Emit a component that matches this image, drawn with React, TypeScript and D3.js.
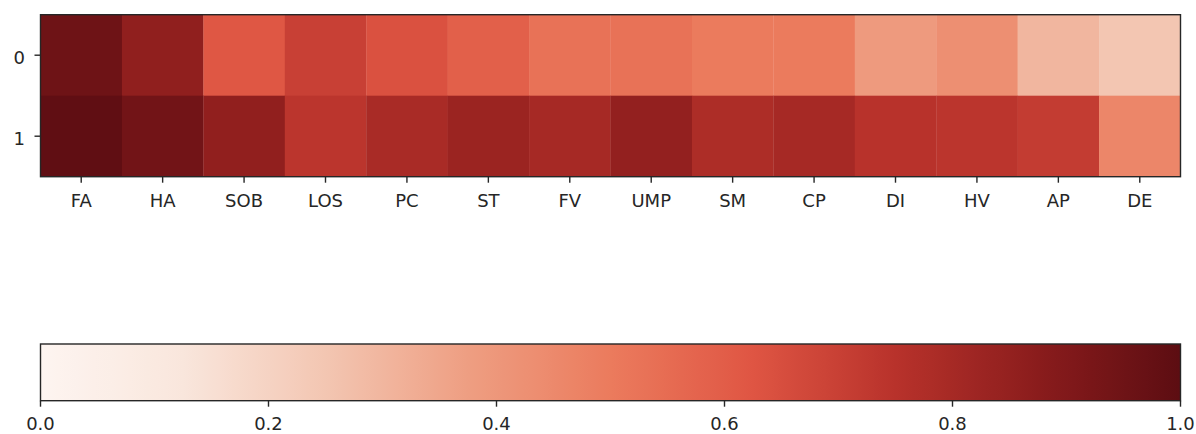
import React from "react";
import * as d3 from "d3";

const categories = ["FA", "HA", "SOB", "LOS", "PC", "ST", "FV", "UMP", "SM", "CP", "DI", "HV", "AP", "DE"];
const rowLabels = ["0", "1"];
const row0Values = [0.95, 0.86, 0.62, 0.7, 0.64, 0.59, 0.53, 0.53, 0.5, 0.5, 0.39, 0.43, 0.3, 0.25];
const row1Values = [0.99, 0.94, 0.856, 0.74, 0.79, 0.83, 0.8, 0.85, 0.78, 0.8, 0.75, 0.74, 0.715, 0.46];
const colorbarTicks = [0, 0.2, 0.4, 0.6, 0.8, 1.0];
// "Reds" ramp as it appears in the reference (slightly muted)
const redsStops = ["#fdf5f1", "#f9e6dc", "#f3c6b2", "#ee9e82", "#eb7b5d", "#df5543", "#b8322b", "#8a1c1c", "#5c0d12"];

const W = 1196;
const H = 434;
const FONT = "'DejaVu Sans', sans-serif";
const FS = 18;

export default function App() {
  const rows = [row0Values, row1Values];
  const color = d3
    .scaleLinear<string>()
    .domain(redsStops.map((_, i) => i / (redsStops.length - 1)))
    .range(redsStops)
    .interpolate(d3.interpolateRgb)
    .clamp(true);

  const left = 40.5;
  const right = 1180.5;
  const top = 14.7;
  const bottom = 176.7;

  const x = d3.scaleBand<string>().domain(categories).range([left, right]).padding(0);
  const y = d3.scaleBand<string>().domain(rowLabels).range([top, bottom]).padding(0);

  const cbTop = 344;
  const cbBottom = 400.7;
  const cx = d3.scaleLinear().domain([0, 1]).range([left, right]);
  const gradStops = d3.range(0, 1.0001, 1 / 64);

  const tickLen = 6;
  const ink = "#262626";

  return (
    <svg
      width={W}
      height={H}
      viewBox={`0 0 ${W} ${H}`}
      style={{ position: "absolute", left: 0, top: 0, display: "block", background: "#fff" }}
      fontFamily={FONT}
      fontSize={FS}
    >
      <defs>
        <linearGradient id="cbgrad" x1="0" x2="1" y1="0" y2="0">
          {gradStops.map((t) => (
            <stop key={t} offset={`${t * 100}%`} stopColor={color(t)} />
          ))}
        </linearGradient>
      </defs>

      {/* heatmap cells */}
      {rows.map((vals, r) =>
        vals.map((v, c) => (
          <rect
            key={`${r}-${c}`}
            x={x(categories[c])!}
            y={y(rowLabels[r])!}
            width={x.bandwidth() + 0.3}
            height={y.bandwidth() + 0.3}
            fill={color(v)}
          />
        ))
      )}
      <rect x={left} y={top} width={right - left} height={bottom - top} fill="none" stroke={ink} strokeWidth={1.4} />

      {/* x ticks */}
      {categories.map((cat) => {
        const cxp = x(cat)! + x.bandwidth() / 2;
        return (
          <g key={cat}>
            <line x1={cxp} x2={cxp} y1={bottom} y2={bottom + tickLen} stroke={ink} strokeWidth={1.4} />
            <text x={cxp} y={bottom + 30} textAnchor="middle" fill={ink}>
              {cat}
            </text>
          </g>
        );
      })}

      {/* y ticks */}
      {rowLabels.map((lab) => {
        const cyp = y(lab)! + y.bandwidth() / 2;
        return (
          <g key={lab}>
            <line x1={left - tickLen} x2={left} y1={cyp} y2={cyp} stroke={ink} strokeWidth={1.4} />
            <text x={left - 15.5} y={cyp + 8.7} textAnchor="end" fill={ink}>
              {lab}
            </text>
          </g>
        );
      })}

      {/* colorbar */}
      <rect x={left} y={cbTop} width={right - left} height={cbBottom - cbTop} fill="url(#cbgrad)" />
      <rect x={left} y={cbTop} width={right - left} height={cbBottom - cbTop} fill="none" stroke={ink} strokeWidth={1.4} />
      {colorbarTicks.map((t) => (
        <g key={t}>
          <line x1={cx(t)} x2={cx(t)} y1={cbBottom} y2={cbBottom + tickLen} stroke={ink} strokeWidth={1.4} />
          <text x={cx(t)} y={cbBottom + 29.5} textAnchor="middle" fill={ink}>
            {t.toFixed(1)}
          </text>
        </g>
      ))}
    </svg>
  );
}
